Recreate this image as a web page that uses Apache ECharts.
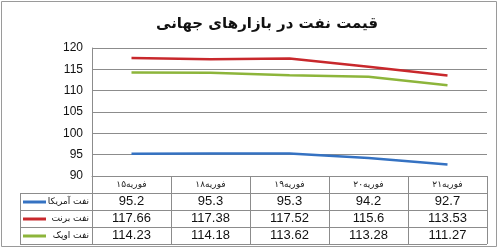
<!DOCTYPE html>
<html><head><meta charset="utf-8">
<script src="https://cdn.jsdelivr.net/npm/echarts@6/dist/echarts.min.js"></script>
<style>html,body{margin:0;padding:0;background:#fff}#c{width:500px;height:250px}</style>
</head><body><div id="c"></div>
<script>
const title = 'قیمت نفت در بازارهای جهانی';
const categories = ['۱۵فوریه', '۱۸فوریه', '۱۹فوریه', '۲۰فوریه', '۲۱فوریه'];
const seriesNames = ['نفت آمریکا', 'نفت برنت', 'نفت اوپک'];
const usOil = [95.2, 95.3, 95.3, 94.2, 92.7];
const brent = [117.66, 117.38, 117.52, 115.6, 113.53];
const opec = [114.23, 114.18, 113.62, 113.28, 111.27];
const colors = ['#3572C2', '#C8282C', '#8DB53B'];
const allSeries = [usOil, brent, opec];

const GL = 92, GR = 487, GT = 48, GB = 176, ROW = 17, HL = 20;
const chart = echarts.init(document.getElementById('c'));
const font = "'Liberation Sans','DejaVu Sans',sans-serif";
const gcol = '#8c8c8c';

const graphics = [
  {type:'rect', shape:{x:1.5,y:1.5,width:495,height:245}, style:{fill:'none', stroke:'#9a9a9a', lineWidth:1}, silent:true},
  {type:'line', shape:{x1:HL+0.5,y1:GB+ROW,x2:HL+0.5,y2:GB+ROW*4}, style:{stroke:gcol,lineWidth:1}}
];
for (let r = 1; r <= 4; r++) {
  const y = GB + ROW * r + 0.5;
  graphics.push({type:'line', shape:{x1:HL,y1:y,x2:GR,y2:y}, style:{stroke:gcol,lineWidth:1}});
}
seriesNames.forEach((n, i) => {
  const cy = GB + ROW * (i + 1) + ROW / 2 + 0.5;
  graphics.push({type:'line', shape:{x1:23,y1:cy,x2:46,y2:cy}, style:{stroke:colors[i],lineWidth:3}});
  graphics.push({type:'text', x:89, y:cy, style:{text:n, fill:'#111', font:"9px 'DejaVu Sans',sans-serif", align:'right', verticalAlign:'middle'}});
});

chart.setOption({
  animation:false,
  title:{text:title, left:262, top:12, textAlign:'center', textStyle:{fontFamily:"'DejaVu Sans',sans-serif", fontWeight:'bold', fontSize:15, color:'#111'}},
  grid:{left:GL, right:500-GR, top:GT, bottom:250-GB},
  xAxis:{
    type:'category', data:categories, boundaryGap:true,
    axisLine:{lineStyle:{color:gcol}},
    axisTick:{show:true, length:ROW*4, lineStyle:{color:gcol}},
    axisLabel:{
      margin:0, interval:0,
      formatter:(v, i) => '{d|' + v + '}\n' + allSeries.map(s => '{n|' + s[i] + '}').join('\n'),
      rich:{
        d:{fontFamily:"'DejaVu Sans',sans-serif", fontSize:9, lineHeight:ROW, color:'#222'},
        n:{fontFamily:font, fontSize:13, lineHeight:ROW, color:'#111'}
      }
    }
  },
  yAxis:{
    type:'value', min:90, max:120, interval:5,
    axisLine:{show:true, lineStyle:{color:gcol}},
    axisTick:{show:false},
    splitLine:{lineStyle:{color:gcol}},
    axisLabel:{fontFamily:font, fontSize:12, color:'#111', margin:9}
  },
  series: allSeries.map((d, i) => ({
    type:'line', name:seriesNames[i], data:d, symbol:'none',
    lineStyle:{color:colors[i], width:2.5}
  })),
  graphic: graphics
});
</script></body></html>
